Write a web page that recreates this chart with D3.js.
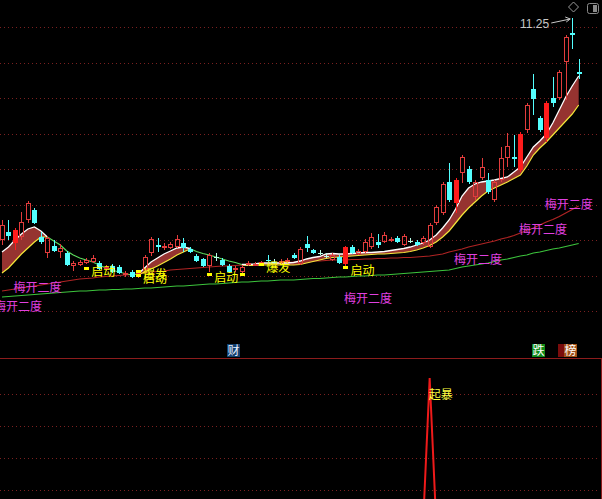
<!DOCTYPE html>
<html><head><meta charset="utf-8">
<script src="https://cdn.jsdelivr.net/npm/d3@7"></script>
<style>html,body{margin:0;padding:0;background:#000;overflow:hidden}svg{display:block}</style>
</head><body><svg id="c" width="602" height="499"></svg>
<script>
// ---- data (prices) ----
const opens = [6.81,6.97,6.75,6.87,7.21,7.41,6.87,6.55,6.69,6.57,
6.55,6.29,6.31,6.35,6.37,6.35,6.23,6.29,6.27,6.11,
6.17,6.09,6.21,6.55,6.71,6.65,6.65,6.67,6.75,6.63,
6.49,6.43,6.29,6.47,6.41,6.29,6.21,6.17,6.31,6.31,
6.33,6.41,6.37,6.35,6.37,6.51,6.33,6.73,6.61,6.55,
6.49,6.41,6.47,6.33,6.67,6.53,6.57,6.67,6.77,6.77,
6.79,6.85,6.71,6.79,6.77,6.75,6.67,7.15,7.35,7.97,
7.55,8.15,8.23,7.67,8.05,8.01,7.61,8.01,8.45,8.47,
8.21,9.01,9.83,9.25,8.85,9.65,9.65,10.37,10.95,10.17];
const highs = [7.21,7.21,7.05,7.37,7.59,7.45,6.97,6.89,6.81,6.73,
6.59,6.39,6.41,6.45,6.51,6.39,6.31,6.33,6.31,6.19,
6.21,6.17,6.51,6.87,6.85,6.75,6.77,6.91,6.85,6.67,
6.53,6.45,6.55,6.55,6.45,6.33,6.29,6.31,6.39,6.37,
6.39,6.51,6.43,6.43,6.45,6.55,6.67,6.89,6.63,6.61,
6.55,6.55,6.51,6.69,6.71,6.63,6.83,6.95,6.93,6.97,
6.87,6.89,6.93,6.85,6.81,6.89,7.15,7.51,7.97,8.35,
8.05,8.51,8.29,8.01,8.45,8.15,8.01,8.67,8.95,8.91,
8.97,9.55,10.13,9.29,9.59,10.07,10.21,10.91,11.25,10.43];
const lows = [6.71,6.81,6.61,6.81,7.15,7.13,6.73,6.45,6.57,6.45,
6.29,6.19,6.29,6.33,6.35,6.21,6.19,6.15,6.13,6.07,
6.05,6.05,6.17,6.49,6.57,6.61,6.63,6.65,6.57,6.55,
6.37,6.27,6.17,6.39,6.29,6.15,6.17,6.15,6.29,6.29,
6.31,6.35,6.33,6.33,6.35,6.43,6.31,6.57,6.53,6.51,
6.45,6.39,6.33,6.23,6.53,6.51,6.55,6.63,6.65,6.75,
6.77,6.75,6.69,6.75,6.69,6.71,6.65,7.11,7.31,7.57,
7.35,7.95,7.93,7.61,8.01,7.73,7.57,7.97,8.27,8.27,
8.17,8.95,9.31,8.97,8.77,9.47,9.61,9.61,10.63,10.03];
const closes = [7.11,6.89,7.01,7.17,7.55,7.15,6.77,6.85,6.59,6.65,
6.31,6.35,6.37,6.41,6.45,6.23,6.27,6.17,6.15,6.15,
6.07,6.15,6.47,6.83,6.67,6.69,6.73,6.83,6.65,6.57,
6.39,6.29,6.51,6.47,6.31,6.17,6.25,6.27,6.35,6.33,
6.37,6.39,6.37,6.39,6.41,6.45,6.63,6.65,6.55,6.55,
6.49,6.51,6.35,6.67,6.55,6.59,6.77,6.87,6.71,6.91,
6.83,6.77,6.89,6.79,6.71,6.85,7.11,7.47,7.93,7.61,
8.01,8.47,7.97,7.97,8.27,7.77,7.97,8.45,8.69,8.43,
8.93,9.51,9.63,9.01,9.55,9.55,10.17,10.87,10.91,10.13];
const solidIdx = [2,53,70,80,84];

const maRed = [5.79,5.81,5.83,5.85,5.87,5.89,5.91,5.93,5.95,5.97,
5.99,6.01,6.03,6.04,6.05,6.07,6.08,6.09,6.10,6.11,
6.12,6.13,6.15,6.17,6.18,6.19,6.21,6.22,6.23,6.24,
6.25,6.26,6.27,6.28,6.29,6.29,6.30,6.31,6.31,6.32,
6.33,6.33,6.34,6.35,6.36,6.37,6.37,6.38,6.39,6.39,
6.40,6.41,6.41,6.41,6.42,6.42,6.43,6.43,6.44,6.44,
6.45,6.45,6.46,6.46,6.47,6.48,6.49,6.51,6.53,6.57,
6.60,6.63,6.67,6.70,6.73,6.76,6.79,6.83,6.86,6.90,
6.95,7.00,7.05,7.11,7.17,7.22,7.28,7.35,7.42,7.49];
const maGreen = [5.67,5.68,5.69,5.70,5.71,5.72,5.73,5.74,5.75,5.76,
5.77,5.78,5.79,5.79,5.80,5.81,5.81,5.82,5.82,5.83,
5.83,5.84,5.85,5.85,5.86,5.87,5.88,5.89,5.89,5.90,
5.91,5.92,5.93,5.93,5.94,5.95,5.96,5.97,5.97,5.98,
5.99,5.99,6.00,6.01,6.01,6.01,6.02,6.03,6.04,6.04,
6.05,6.06,6.07,6.07,6.08,6.09,6.09,6.10,6.11,6.11,
6.12,6.13,6.14,6.15,6.16,6.17,6.18,6.19,6.20,6.21,
6.24,6.27,6.29,6.31,6.33,6.35,6.38,6.41,6.43,6.46,
6.49,6.51,6.55,6.57,6.60,6.63,6.65,6.68,6.71,6.74];
const bandFast = [6.57,6.67,6.81,6.93,7.03,7.07,6.99,6.87,6.79,6.71,
6.59,6.51,6.45,6.41,6.37,6.31,6.25,6.21,6.17,6.14,
6.11,6.13,6.25,6.37,6.45,6.53,6.59,6.65,6.67,6.64,
6.58,6.54,6.51,6.47,6.43,6.39,6.36,6.32,6.32,6.33,
6.35,6.35,6.35,6.35,6.35,6.36,6.39,6.43,6.46,6.48,
6.53,6.54,6.53,6.53,6.54,6.55,6.56,6.56,6.57,6.58,
6.60,6.62,6.64,6.67,6.71,6.75,6.81,6.91,7.05,7.21,
7.43,7.69,7.85,7.93,7.97,7.99,8.01,8.04,8.07,8.17,
8.27,8.47,8.67,8.79,8.93,9.15,9.41,9.67,9.89,10.09];
const bandSlow = [6.15,6.25,6.39,6.53,6.65,6.77,6.87,6.87,null,null,
null,null,null,null,null,null,null,null,null,null,
null,6.11,6.17,6.23,6.29,6.36,6.43,6.51,6.57,6.63,
null,null,null,null,null,null,null,6.31,6.30,6.30,
6.31,6.31,6.31,6.31,6.31,6.31,6.32,6.35,6.38,6.41,
6.44,6.46,6.47,6.48,6.49,6.50,6.51,6.52,6.53,6.53,
6.54,6.55,6.56,6.58,6.61,6.65,6.70,6.77,6.87,6.99,
7.15,7.31,7.45,7.57,7.69,7.79,7.85,7.91,7.97,8.04,
8.11,8.29,8.51,8.65,8.77,8.91,9.05,9.19,9.33,9.51];

const gridPrices = [11.07,10.36,9.65,8.94,8.23,7.52,6.81,6.10,5.39];

const labelIdx = [13,21,21,32,40,53];
const labelText = ['启动','爆发','启动','启动','爆发','启动'];
const labelPrice = [6.25,6.19,6.11,6.13,6.33,6.27];
const extraMarkIdx = [37];
const extraMarkPrice = [6.13];

const plumIdx = [-1,2,53,70,80,84];
const plumPrice = [5.49,5.87,5.65,6.43,7.03,7.53];
const plumText = '梅开二度';

const signalIdx = [65,66,67];
const signalVal = [0,90,0];
const signalText = '起暴';
const lowerGrid = [80,60,40,20];

// ---- drawing ----
const svg = d3.select('#c');
svg.append('rect').attr('width',602).attr('height',499).attr('fill','#000');
const x = d3.scaleLinear().domain([0,89]).range([2,578.7]);
const y = d3.scaleLinear().domain([4.81,11.61]).range([340,0]);
const yl = d3.scaleLinear().domain([0,100]).range([522,362]);
const n = closes.length;
const idx = d3.range(n);
const cxp = i => Math.round(x(i));

const clipU = svg.append('clipPath').attr('id','cu').append('rect').attr('x',0).attr('y',0).attr('width',602).attr('height',342);
const clipL = svg.append('clipPath').attr('id','cl').append('rect').attr('x',0).attr('y',359).attr('width',601).attr('height',140);

// grid upper
svg.append('g').selectAll('line').data(gridPrices).join('line')
  .attr('x1',0).attr('x2',600).attr('y1',d=>Math.round(y(d))+0.5).attr('y2',d=>Math.round(y(d))+0.5)
  .attr('stroke','#7a2020').attr('stroke-dasharray','1,3');
// grid lower
svg.append('g').selectAll('line').data(lowerGrid).join('line')
  .attr('x1',0).attr('x2',600).attr('y1',d=>Math.round(yl(d))+0.5).attr('y2',d=>Math.round(yl(d))+0.5)
  .attr('stroke','#7a2020').attr('stroke-dasharray','1,3');
// separator
svg.append('line').attr('x1',0).attr('x2',602).attr('y1',358.5).attr('y2',358.5).attr('stroke','#8c1c1c').attr('stroke-width',1.2);
svg.append('line').attr('x1',601.5).attr('x2',601.5).attr('y1',358).attr('y2',499).attr('stroke','#8c1c1c');

const gU = svg.append('g').attr('clip-path','url(#cu)');

// MA lines
const lineOf = arr => d3.line().x(i=>x(i)).y(i=>y(arr[i]));
gU.append('path').attr('d',lineOf(maRed)(idx)).attr('fill','none').attr('stroke','#b02424').attr('stroke-width',1.2);
gU.append('path').attr('d',lineOf(maGreen)(idx)).attr('fill','none').attr('stroke','#3cc43c').attr('stroke-width',1.2);

// band
const up = i => bandSlow[i] !== null && bandSlow[i] !== undefined;
gU.append('path').attr('d', d3.area().defined(up).x(i=>x(i)).y0(i=>y(bandSlow[i])).y1(i=>y(bandFast[i]))(idx))
  .attr('fill','#963330');
gU.append('path').attr('d', d3.line().defined(up).x(i=>x(i)).y(i=>y(bandSlow[i]))(idx))
  .attr('fill','none').attr('stroke','#f4e63a').attr('stroke-width',1.2);
gU.append('path').attr('d', d3.line().defined(up).x(i=>x(i)).y(i=>y(bandFast[i]))(idx))
  .attr('fill','none').attr('stroke','#ffffff').attr('stroke-width',1.3);
const downDef = i => !up(i) || (i>0 && !up(i-1)) || (i<n-1 && !up(i+1));
gU.append('path').attr('d', d3.line().defined(downDef).x(i=>x(i)).y(i=>y(bandFast[i]))(idx))
  .attr('fill','none').attr('stroke','#5cd85c').attr('stroke-width',1.2);

// candles
const gC = gU.append('g');
idx.forEach(i => {
  const o=opens[i], c=closes[i], h=highs[i], l=lows[i];
  const left = cxp(i)-2, mid = left+2.5;
  const top = Math.round(y(Math.max(o,c))), bot = Math.round(y(Math.min(o,c)));
  const hy = Math.round(y(h)), ly = Math.round(y(l));
  if (c > o) {
    const solid = solidIdx.includes(i);
    const col = solid ? '#ff1c1c' : '#e23c3c';
    gC.append('line').attr('x1',mid).attr('x2',mid).attr('y1',hy).attr('y2',top).attr('stroke',col);
    gC.append('line').attr('x1',mid).attr('x2',mid).attr('y1',bot).attr('y2',ly).attr('stroke',col);
    if (solid) gC.append('rect').attr('x',left).attr('y',top).attr('width',5).attr('height',Math.max(1,bot-top)).attr('fill',col);
    else gC.append('rect').attr('x',left+0.5).attr('y',top+0.5).attr('width',4).attr('height',Math.max(1,bot-top-1)).attr('fill','none').attr('stroke',col);
  } else if (c < o) {
    const col = '#54ffff';
    gC.append('line').attr('x1',mid).attr('x2',mid).attr('y1',hy).attr('y2',ly).attr('stroke',col);
    gC.append('rect').attr('x',left).attr('y',top).attr('width',5).attr('height',Math.max(1,bot-top)).attr('fill',col);
  } else {
    const col = '#b8ffe8';
    gC.append('line').attr('x1',mid).attr('x2',mid).attr('y1',hy).attr('y2',ly).attr('stroke',col);
    gC.append('line').attr('x1',left).attr('x2',left+5).attr('y1',top+0.5).attr('y2',top+0.5).attr('stroke',col);
  }
});

// yellow signal labels
const cjk = '"Noto Sans CJK SC","Noto Sans",sans-serif';
labelIdx.forEach((i,k) => {
  const yy = y(labelPrice[k]);
  gU.append('rect').attr('x',cxp(i)-2).attr('y',Math.round(yy)-1).attr('width',5).attr('height',3).attr('fill','#ffff00');
  gU.append('text').attr('x',x(i)+5).attr('y',yy+7.5).text(labelText[k])
    .attr('fill','#ffff00').attr('font-family',cjk).attr('font-size',12);
});
extraMarkIdx.forEach((i,k) => {
  gU.append('rect').attr('x',cxp(i)-2).attr('y',Math.round(y(extraMarkPrice[k]))-1).attr('width',5).attr('height',3).attr('fill','#ffff00');
});
// 梅开二度
plumIdx.forEach((i,k) => {
  svg.append('text').attr('x',x(i)-1.5).attr('y',y(plumPrice[k])+4.5).text(plumText)
    .attr('fill','#e040e0').attr('font-family',cjk).attr('font-size',12);
});

// max label
const im = d3.maxIndex(highs);
const hx = x(im), hyv = y(highs[im]);
svg.append('text').attr('x',hx-23).attr('y',hyv+10).attr('text-anchor','end').text(highs[im].toFixed(2))
  .attr('fill','#c8c8c8').attr('font-family','"Liberation Sans",Arial,sans-serif').attr('font-size',12);
svg.append('line').attr('x1',hx-21).attr('y1',hyv+5).attr('x2',hx-2).attr('y2',hyv+1).attr('stroke','#c8c8c8');
svg.append('path').attr('d',`M${hx-2},${hyv+1} l-5,-2 M${hx-2},${hyv+1} l-4,3`).attr('stroke','#c8c8c8').attr('fill','none');

// top-right icons
svg.append('path').attr('d','M573.5,2 L578.5,7 L573.5,12 L568.5,7 Z').attr('fill','none').attr('stroke','#9a9a9a');
svg.append('rect').attr('x',587.5).attr('y',3.5).attr('width',11).attr('height',10).attr('rx',2).attr('fill','none').attr('stroke','#8a8a8a');
svg.append('rect').attr('x',593).attr('y',5).attr('width',4).attr('height',7).attr('fill','#8a8a8a');

// small tag icons
function tag(x0,w,bg,txt,fg){
  svg.append('rect').attr('x',x0).attr('y',344).attr('width',w).attr('height',13).attr('fill',bg);
  if (txt) svg.append('text').attr('x',x0+w/2).attr('y',355).attr('text-anchor','middle').text(txt)
    .attr('fill',fg).attr('font-family',cjk).attr('font-size',12);
}
tag(227,13,'#123f6e','财','#e8f0ff');
tag(532,13,'#118a1a','跌','#ffffff');
tag(558,8,'#7a0c0c','','');
tag(564,13,'#a05018','榜','#ffffff');

// lower panel signal
const gL = svg.append('g').attr('clip-path','url(#cl)');
gL.append('path').attr('d', d3.line().x((d,k)=>x(signalIdx[k])).y(d=>yl(d))(signalVal))
  .attr('fill','none').attr('stroke','#ee1a1a').attr('stroke-width',2);
const si = signalIdx[d3.maxIndex(signalVal)];
svg.append('text').attr('x',x(si)-1).attr('y',yl(d3.max(signalVal))+21).text(signalText)
  .attr('fill','#ffff40').attr('font-family',cjk).attr('font-size',12);
</script></body></html>
